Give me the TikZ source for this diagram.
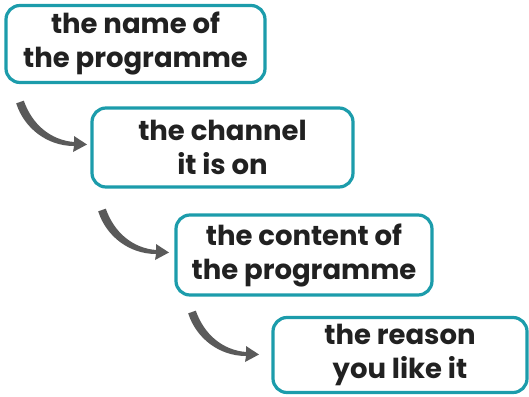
\documentclass[tikz,border=0pt]{standalone}
\usepackage{fontspec}
\setmainfont{Poppins}
\usetikzlibrary{arrows.meta}
\definecolor{teal}{HTML}{1C9CAB}
\definecolor{arrowgray}{HTML}{5A5A5A}
\tikzset{
  box/.style={draw=teal, line width=3.2pt, rounded corners=14pt, fill=white,
    align=center, inner sep=0pt, font=\fontsize{27.5}{34}\selectfont\bfseries, text=black!87},
  tarrow/.pic={
    \fill[arrowgray] (-3.8,1.3) .. controls (4,26) and (27,44) .. (54,44)
      -- (53,50) -- (67,42.5) -- (54,34) -- (54,40)
      .. controls (30,38) and (12,22) .. (3.8,-1.3) -- cycle;
  }
}
\begin{document}
\begin{tikzpicture}[x=1pt, y=-1pt]
\useasboundingbox (0,0) rectangle (529,396);
\node[box, minimum width=259pt, minimum height=77pt] (b1) at (135.5,44) {the name of\\the programme};
\node[box, minimum width=261pt, minimum height=79pt] (b2) at (222.5,147.5) {the channel\\it is on};
\node[box, minimum width=256pt, minimum height=80pt] (b3) at (304,255) {the content of\\the programme};
\node[box, minimum width=254pt, minimum height=75pt] (b4) at (400,355) {the reason\\you like it};
\coordinate (a1) at (20,102);
\coordinate (a2) at (102,210);
\coordinate (a3) at (192,312);
\pic at (a1) {tarrow};
\pic at (a2) {tarrow};
\pic at (a3) {tarrow};
\end{tikzpicture}
\end{document}
